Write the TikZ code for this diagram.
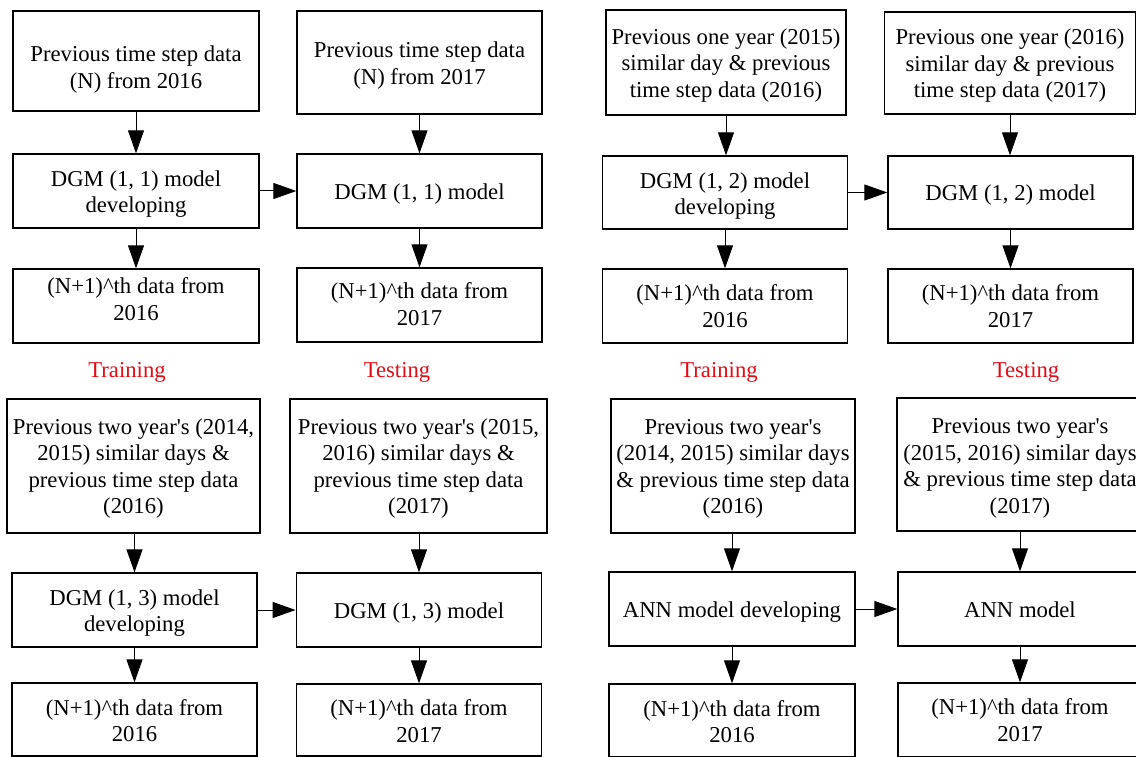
\documentclass[tikz,border=0pt]{standalone}
\usepackage{fontspec}
\setmainfont{Liberation Serif}[Ligatures=TeXOff]
\usetikzlibrary{arrows.meta}
\definecolor{lbl}{RGB}{226,12,22}
\begin{document}
\begin{tikzpicture}[x=1pt,y=-1pt,
  txt/.style={align=center, inner sep=0pt, font=\fontsize{22.7}{26.5}\selectfont},
  box/.style 2 args={draw, line width=1.3pt, inner sep=0pt, minimum width=#1pt, minimum height=#2pt},
  arr/.style={line width=1pt, -{Triangle[length=23pt,width=16pt]}},
  lab/.style={txt, text=lbl}]
\useasboundingbox (0,0) rectangle (1136,757);
% ---------- top left ----------
\node[box={246}{100}, label={[txt,yshift=-8.5pt]center:{Previous time step data\\(N) from 2016}}] (a1) at (136,61) {};
\node[box={245}{103}, label={[txt,yshift=-3pt]center:{Previous time step data\\(N) from 2017}}] (a2) at (419.5,62.5) {};
\node[box={246}{74}, label={[txt,yshift=-3pt]center:{DGM (1, 1) model\\developing}}] (b1) at (136,191) {};
\node[box={245}{74}, label={[txt,yshift=-3pt]center:{DGM (1, 1) model}}] (b2) at (419.5,191) {};
\node[box={246}{74}, label={[txt,yshift=7pt]center:{(N+1)\^{}th data from\\2016}}] (c1) at (136,306) {};
\node[box={245}{74}, label={[txt,yshift=1pt]center:{(N+1)\^{}th data from\\2017}}] (c2) at (419.5,305) {};
\node[lab] (t1) at (127,372) {Training};
\node[lab] (s1) at (397,372) {Testing};
\draw[arr] (a1.south) -- (b1.north);
\draw[arr] (b1.south) -- (c1.north);
\draw[arr] (a2.south) -- (b2.north);
\draw[arr] (b2.south) -- (c2.north);
\draw[arr] (b1.east) -- (b2.west);
% ---------- top right ----------
\node[box={240}{105}, label={[txt,yshift=-3pt]center:{Previous one year (2015)\\similar day \& previous\\time step data (2016)}}] (d1) at (726,62.5) {};
\node[box={251}{102}, label={[txt,yshift=-3pt]center:{Previous one year (2016)\\similar day \& previous\\time step data (2017)}}] (d2) at (1010,63) {};
\node[box={245.5}{73}, label={[txt,yshift=-3.5pt]center:{DGM (1, 2) model\\developing}}] (e1) at (725,192.5) {};
\node[box={245}{73}, label={[txt,yshift=-3pt]center:{DGM (1, 2) model}}] (e2) at (1010.5,192.5) {};
\node[box={245.5}{74}, label={[txt]center:{(N+1)\^{}th data from\\2016}}] (f1) at (725,306) {};
\node[box={245}{74}, label={[txt]center:{(N+1)\^{}th data from\\2017}}] (f2) at (1010.5,306) {};
\node[lab] (t2) at (719,372) {Training};
\node[lab] (s2) at (1026,372) {Testing};
\draw[arr] (d1.south) -- (d1.south |- e1.north);
\draw[arr] (e1.south) -- (f1.north);
\draw[arr] (d2.south) -- (d2.south |- e2.north);
\draw[arr] (e2.south) -- (f2.north);
\draw[arr] (e1.east) -- (e2.west);
% ---------- bottom left ----------
\node[box={253}{134}, label={[txt,yshift=-2.5pt]center:{Previous two year's (2014,\\2015) similar days \&\\previous time step data\\(2016)}}] (g1) at (133.5,466) {};
\node[box={257}{134}, label={[txt,yshift=-2.5pt]center:{Previous two year's (2015,\\2016) similar days \&\\previous time step data\\(2017)}}] (g2) at (418.5,466) {};
\node[box={245}{74}, label={[txt,yshift=-3pt]center:{DGM (1, 3) model\\developing}}] (h1) at (134.5,610) {};
\node[box={245.5}{74}, label={[txt,yshift=-3pt]center:{DGM (1, 3) model}}] (h2) at (419,610) {};
\node[box={245}{73}, label={[txt,yshift=-1pt]center:{(N+1)\^{}th data from\\2016}}] (i1) at (134.5,719.5) {};
\node[box={245.5}{72}, label={[txt,yshift=-1pt]center:{(N+1)\^{}th data from\\2017}}] (i2) at (419,720) {};
\draw[arr] (g1.south -| h1) -- (h1.north);
\draw[arr] (h1.south) -- (i1.north);
\draw[arr] (g2.south -| h2) -- (h2.north);
\draw[arr] (h2.south) -- (i2.north);
\draw[arr] (h1.east) -- (h2.west);
% ---------- bottom right ----------
\node[box={244}{134}, label={[txt,yshift=-3pt]center:{Previous two year's\\(2014, 2015) similar days\\\& previous time step data\\(2016)}}] (j1) at (733,466) {};
\node[box={246}{133}, label={[txt,yshift=-4pt]center:{Previous two year's\\(2015, 2016) similar days\\\& previous time step data\\(2017)}}] (j2) at (1020,464.5) {};
\node[box={246}{74}, label={[txt,yshift=-3pt]center:{ANN model developing}}] (k1) at (732,609) {};
\node[box={244}{74}, label={[txt,yshift=-1pt]center:{ANN model}}] (k2) at (1020,609) {};
\node[box={246}{73}, label={[txt,yshift=-1pt]center:{(N+1)\^{}th data from\\2016}}] (l1) at (732,720.5) {};
\node[box={244}{74}, label={[txt]center:{(N+1)\^{}th data from\\2017}}] (l2) at (1020,720) {};
\draw[arr] (j1.south -| k1) -- (k1.north);
\draw[arr] (k1.south) -- (l1.north);
\draw[arr] (j2.south) -- (k2.north);
\draw[arr] (k2.south) -- (l2.north);
\draw[arr] (k1.east) -- (k2.west);
\end{tikzpicture}
\end{document}
